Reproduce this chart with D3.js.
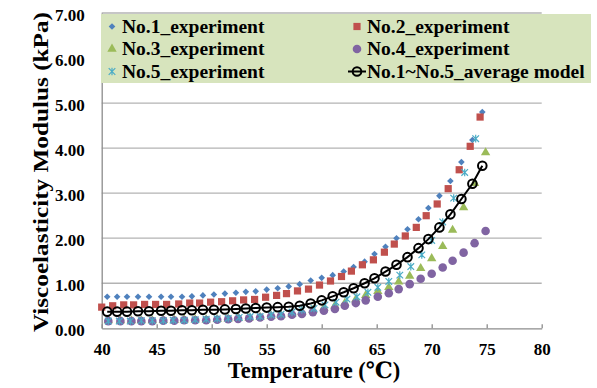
<!DOCTYPE html>
<html>
<head>
<meta charset="utf-8">
<script src="https://cdn.jsdelivr.net/npm/d3@7"></script>
<style>
  html, body { margin: 0; padding: 0; background: #fff; }
  svg text { font-family: "Liberation Serif", "Tinos", "Times New Roman", "DejaVu Serif", serif !important; font-weight: bold; }
</style>
</head>
<body>
<div class="container"></div>
<script>
// temperatures (°C) and moduli (kPa)
const tempsNo1 = [40.5, 41.4, 42.3, 43.3, 44.3, 45.4, 46.3, 47.3, 48.2, 49.2, 50.2, 51.2, 52.2, 53.1, 54.0, 55.0, 56.0, 57.0,
  58.0, 59.0, 60.0, 61.0, 62.0, 62.9, 63.9, 64.8, 65.8, 66.8, 67.8, 68.8, 69.7, 70.7, 71.7, 72.7, 73.7, 74.6]
const valuesNo1 = [0.70, 0.70, 0.70, 0.70, 0.70, 0.70, 0.70, 0.70, 0.71, 0.73, 0.75, 0.77, 0.79, 0.81, 0.82, 0.86, 0.89, 0.93,
  0.98, 1.06, 1.12, 1.18, 1.26, 1.36, 1.48, 1.65, 1.81, 2.00, 2.20, 2.42, 2.67, 2.94, 3.27, 3.69, 4.18, 4.80]

const tempsNo2 = [40.0, 41.0, 42.0, 42.9, 43.9, 44.9, 45.9, 47.0, 48.0, 48.9, 49.9, 50.9, 51.9, 52.9, 53.9, 54.9, 55.9, 56.8,
  57.8, 58.8, 59.8, 60.8, 61.8, 62.7, 63.7, 64.7, 65.7, 66.6, 67.6, 68.6, 69.5, 70.5, 71.5, 72.5, 73.5, 74.4]
const valuesNo2 = [0.47, 0.50, 0.52, 0.52, 0.53, 0.53, 0.53, 0.54, 0.56, 0.56, 0.58, 0.59, 0.61, 0.63, 0.64, 0.69, 0.73, 0.77,
  0.83, 0.87, 0.96, 1.05, 1.15, 1.27, 1.41, 1.52, 1.69, 1.87, 2.05, 2.24, 2.50, 2.76, 3.10, 3.52, 4.04, 4.69]

const tempsNo3 = [40.6, 41.7, 42.7, 43.6, 44.6, 45.6, 46.6, 47.5, 48.5, 49.5, 50.5, 51.5, 52.4, 53.4, 54.4, 55.4, 56.3, 57.3,
  58.2, 59.2, 60.2, 61.2, 62.1, 63.1, 64.0, 65.1, 66.1, 67.0, 68.0, 69.0, 70.0, 71.0, 71.9, 72.9, 73.9, 74.9]
const valuesNo3 = [0.17, 0.17, 0.17, 0.17, 0.17, 0.18, 0.18, 0.19, 0.19, 0.19, 0.20, 0.21, 0.22, 0.23, 0.25, 0.27, 0.29, 0.32,
  0.36, 0.40, 0.45, 0.50, 0.56, 0.64, 0.73, 0.82, 0.91, 1.03, 1.16, 1.33, 1.55, 1.82, 2.18, 2.68, 3.22, 3.90]

const tempsNo4 = [40.6, 41.7, 42.7, 43.6, 44.6, 45.6, 46.6, 47.5, 48.5, 49.5, 50.5, 51.5, 52.4, 53.4, 54.4, 55.4, 56.3, 57.3,
  58.2, 59.2, 60.2, 61.2, 62.1, 63.1, 64.0, 65.1, 66.1, 67.0, 68.0, 69.0, 70.0, 71.0, 71.9, 72.9, 73.9, 74.9]
const valuesNo4 = [0.16, 0.16, 0.16, 0.16, 0.16, 0.17, 0.17, 0.18, 0.18, 0.18, 0.19, 0.20, 0.21, 0.22, 0.24, 0.26, 0.27, 0.30,
  0.32, 0.36, 0.39, 0.43, 0.50, 0.56, 0.62, 0.70, 0.78, 0.87, 0.98, 1.10, 1.21, 1.35, 1.50, 1.68, 1.89, 2.16]

const tempsNo5 = [40.6, 41.6, 42.6, 43.6, 44.6, 45.6, 46.5, 47.5, 48.5, 49.5, 50.5, 51.5, 52.5, 53.5, 54.4, 55.4, 56.3, 57.3,
  58.2, 59.3, 60.3, 61.3, 62.3, 63.2, 64.2, 65.1, 66.1, 67.1, 68.1, 69.1, 70.0, 71.0, 72.0, 73.0, 74.0]
const valuesNo5 = [0.16, 0.16, 0.16, 0.17, 0.17, 0.17, 0.18, 0.18, 0.19, 0.20, 0.21, 0.22, 0.24, 0.26, 0.26, 0.30, 0.31, 0.36,
  0.41, 0.44, 0.52, 0.58, 0.65, 0.70, 0.80, 0.91, 1.04, 1.18, 1.37, 1.63, 1.95, 2.36, 2.89, 3.46, 4.21]

const tempsAvg = tempsNo1
const valuesAvg = [0.37, 0.37, 0.37, 0.38, 0.38, 0.39, 0.39, 0.40, 0.40, 0.41, 0.41, 0.42, 0.43, 0.44, 0.45, 0.46, 0.47, 0.48,
  0.50, 0.55, 0.62, 0.71, 0.80, 0.89, 1.00, 1.11, 1.26, 1.41, 1.58, 1.78, 1.98, 2.24, 2.53, 2.87, 3.21, 3.61]

const seriesNames = ['No.1_experiment', 'No.2_experiment', 'No.3_experiment', 'No.4_experiment', 'No.5_experiment',
  'No.1~No.5_average model']
const xTicks = [40, 45, 50, 55, 60, 65, 70, 75, 80]
const yTicks = [0, 1, 2, 3, 4, 5, 6, 7]

const SVG_WIDTH = 597
const SVG_HEIGHT = 388
const PLOT = { LEFT: 101.7, RIGHT: 541.7, TOP: 13, BOTTOM: 328.3 }
const GRID = '#b3b3b3'
const AXIS = '#8c8c8c'

const svg = d3.select('.container')
  .append('svg')
  .attr('width', SVG_WIDTH)
  .attr('height', SVG_HEIGHT)

const x = d3.scaleLinear().domain([40, 80]).range([PLOT.LEFT, PLOT.RIGHT])
const y = d3.scaleLinear().domain([0, 7]).range([PLOT.BOTTOM, PLOT.TOP])

// gridlines
svg.append('g')
  .selectAll('line')
  .data(yTicks.slice(1))
  .enter()
  .append('line')
    .attr('x1', PLOT.LEFT).attr('x2', PLOT.RIGHT)
    .attr('y1', d => y(d)).attr('y2', d => y(d))
    .attr('stroke', GRID).attr('stroke-width', 1.3)

// y axis (line + labels only)
const yAxis = svg.append('g')
  .attr('transform', `translate(${PLOT.LEFT},0)`)
  .call(d3.axisLeft(y).tickValues(yTicks).tickSize(0).tickPadding(17).tickFormat(d3.format('.2f')))
yAxis.select('.domain').attr('stroke', AXIS).attr('stroke-width', 1.3)
yAxis.selectAll('text')
  .attr('font-size', '17px').attr('fill', '#000').attr('dy', '0.45em')

// x axis, ticks pointing into the plot
const xAxis = svg.append('g')
  .attr('transform', `translate(0,${PLOT.BOTTOM})`)
  .call(d3.axisBottom(x).tickValues(xTicks).tickSizeInner(-4).tickSizeOuter(0).tickPadding(15))
xAxis.select('.domain').attr('stroke', AXIS).attr('stroke-width', 1.3)
xAxis.selectAll('.tick line').attr('stroke', AXIS).attr('stroke-width', 1.3)
xAxis.selectAll('text')
  .attr('font-size', '17px').attr('fill', '#000')

// marker shapes
const diamond = d3.symbol().type(d3.symbolDiamond2).size(28)
const square = d3.symbol().type(d3.symbolSquare).size(52)
const triangle = d3.symbol().type(d3.symbolTriangle).size(38)

function starPath(s) {
  return `M${-s},${-s}L${s},${s}M${-s},${s}L${s},${-s}M0,${-s - 0.5}L0,${s + 0.5}`
}

const experiments = [
  { temps: tempsNo1, values: valuesNo1, draw: g => g.append('path').attr('d', diamond).attr('fill', '#4f81bd') },
  { temps: tempsNo2, values: valuesNo2, draw: g => g.append('path').attr('d', square).attr('fill', '#c0504d') },
  { temps: tempsNo3, values: valuesNo3, draw: g => g.append('path').attr('d', triangle).attr('fill', '#9bbb59') },
  { temps: tempsNo4, values: valuesNo4, draw: g => g.append('circle').attr('r', 4.3).attr('fill', '#8064a2') },
  { temps: tempsNo5, values: valuesNo5, draw: g => g.append('path').attr('d', starPath(3.3))
      .attr('stroke', '#4bacc6').attr('stroke-width', 1.2).attr('fill', 'none') },
]

experiments.forEach(s => {
  const pts = s.temps.map((t, i) => [t, s.values[i]])
  const g = svg.append('g')
    .selectAll('g')
    .data(pts)
    .enter()
    .append('g')
      .attr('transform', d => `translate(${x(d[0])},${y(d[1])})`)
  s.draw(g)
})

// average model line
const avgPts = tempsAvg.map((t, i) => [t, valuesAvg[i]])
svg.append('path')
  .datum(avgPts)
  .attr('d', d3.line().x(d => x(d[0])).y(d => y(d[1])))
  .attr('fill', 'none').attr('stroke', '#000').attr('stroke-width', 2)
svg.append('g')
  .selectAll('circle')
  .data(avgPts)
  .enter()
  .append('circle')
    .attr('cx', d => x(d[0])).attr('cy', d => y(d[1]))
    .attr('r', 4.3).attr('fill', 'none').attr('stroke', '#000').attr('stroke-width', 2)

// axis titles
svg.append('text')
  .text('Temperature (℃)')
  .attr('x', 314).attr('y', 378)
  .attr('text-anchor', 'middle')
  .attr('font-size', '22.5px')

svg.append('text')
  .text('Viscoelasticity Modulus (kPa)')
  .attr('transform', 'translate(48,172) rotate(-90)')
  .attr('text-anchor', 'middle')
  .attr('font-size', '21px')
  .attr('textLength', 320)
  .attr('lengthAdjust', 'spacingAndGlyphs')

// legend
const legend = svg.append('g')
legend.append('rect')
  .attr('x', 101).attr('y', 14).attr('width', 490).attr('height', 69)
  .attr('fill', '#d7e4bd')

const legendRows = [32.5, 55, 77.5]
const legendCols = [112, 357]
const legendItems = legend.selectAll('g')
  .data(seriesNames)
  .enter()
  .append('g')
    .attr('transform', (d, i) => `translate(${legendCols[i % 2]},${legendRows[Math.floor(i / 2)]})`)

legendItems.append('text')
  .text(d => d)
  .attr('x', 10)
  .attr('font-size', '19.5px')

legendItems.each(function(d, i) {
  const g = d3.select(this).append('g').attr('transform', 'translate(0,-6)')
  if (i < 5) {
    experiments[i].draw(g)
  } else {
    g.append('line').attr('x1', -9).attr('x2', 9).attr('stroke', '#000').attr('stroke-width', 2)
    g.append('circle').attr('r', 4.3).attr('fill', 'none').attr('stroke', '#000').attr('stroke-width', 2)
  }
})
</script>
</body>
</html>
